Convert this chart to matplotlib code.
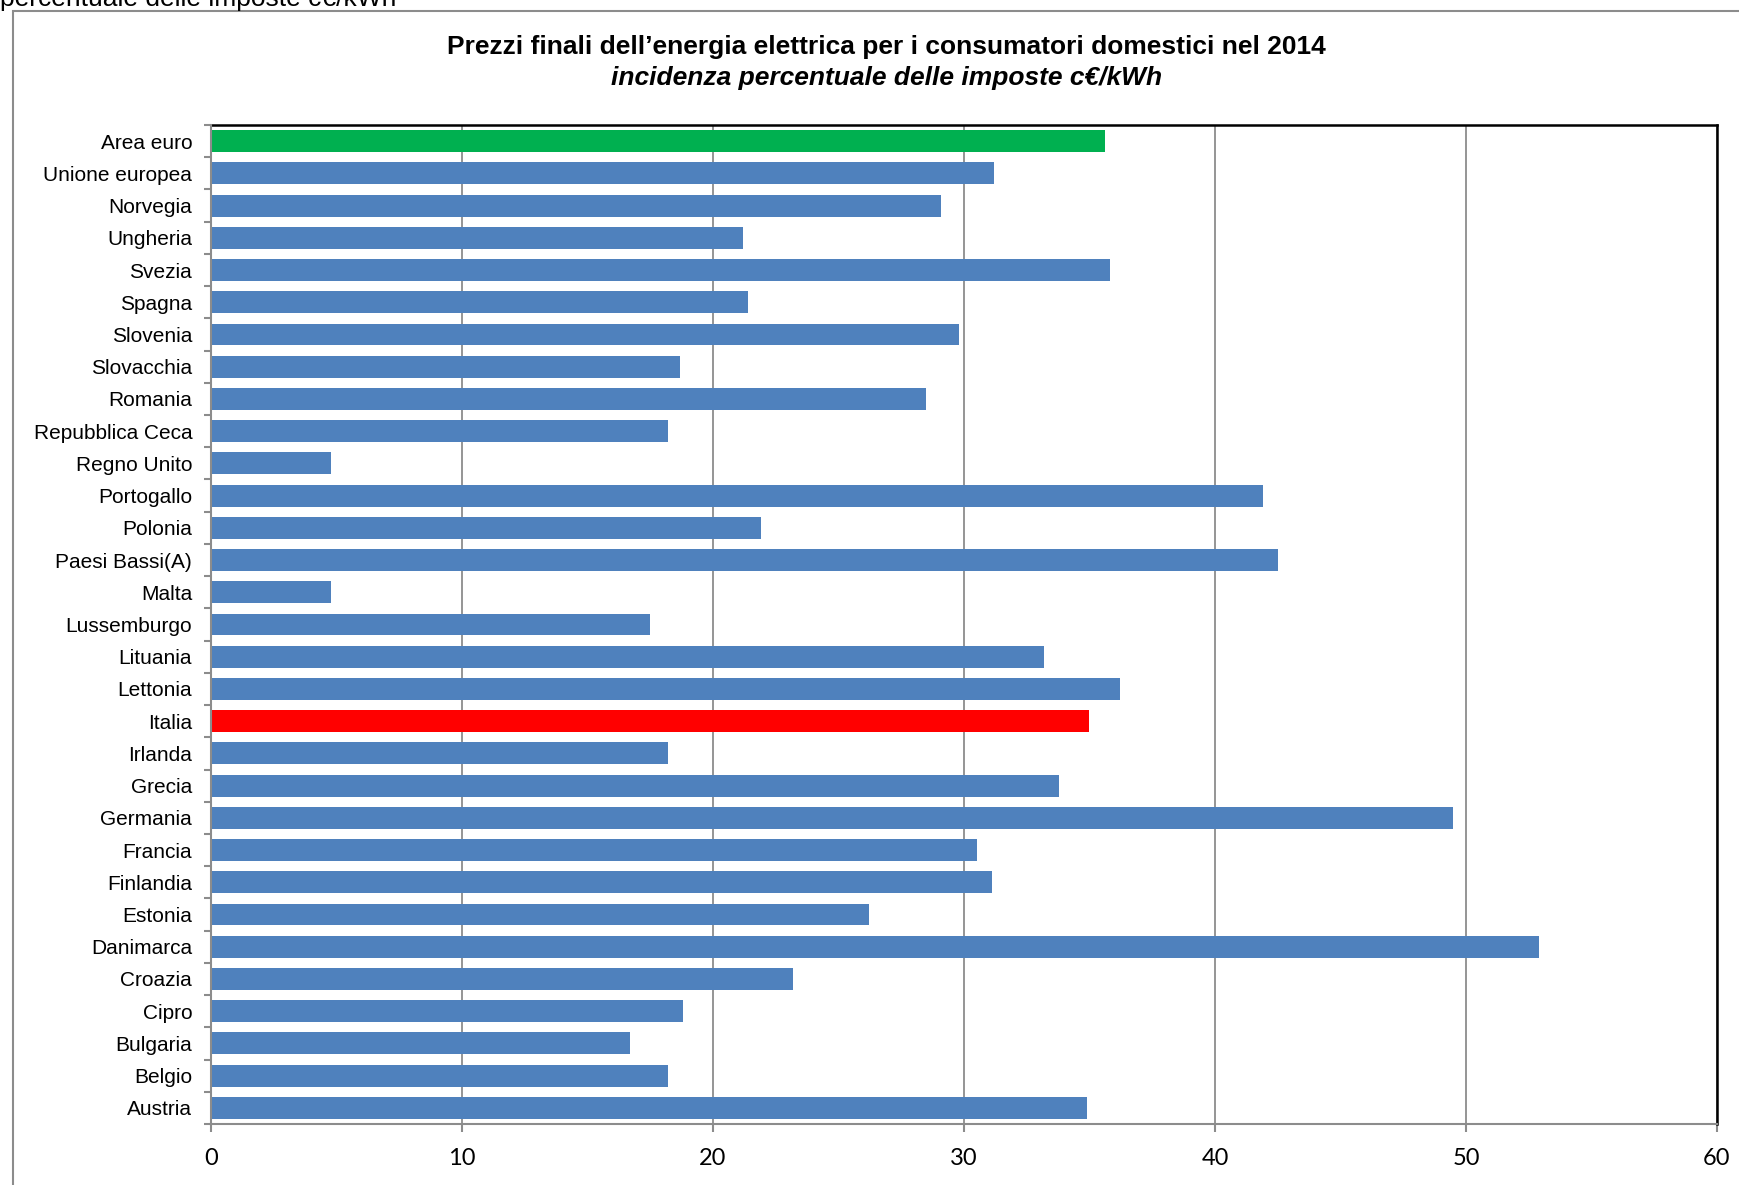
import numpy as np
import matplotlib
matplotlib.use("Agg")
import matplotlib.pyplot as plt
from matplotlib.patches import Rectangle

# countries from top to bottom, as in the chart
COUNTRIES = [
    "Area euro", "Unione europea", "Norvegia", "Ungheria", "Svezia", "Spagna",
    "Slovenia", "Slovacchia", "Romania", "Repubblica Ceca", "Regno Unito",
    "Portogallo", "Polonia", "Paesi Bassi(A)", "Malta", "Lussemburgo",
    "Lituania", "Lettonia", "Italia", "Irlanda", "Grecia", "Germania",
    "Francia", "Finlandia", "Estonia", "Danimarca", "Croazia", "Cipro",
    "Bulgaria", "Belgio", "Austria",
]
TAX_SHARE = [
    35.6, 31.2, 29.1, 21.2, 35.8, 21.4,
    29.8, 18.7, 28.5, 18.2, 4.8,
    41.9, 21.9, 42.5, 4.8, 17.5,
    33.2, 36.2, 35.0, 18.2, 33.8, 49.5,
    30.5, 31.1, 26.2, 52.9, 23.2, 18.8,
    16.7, 18.2, 34.9,
]
HIGHLIGHT = {"Area euro": "#00B050", "Italia": "#FF0000"}
BLUE = "#4F81BD"
X_TICKS = [0, 10, 20, 30, 40, 50, 60]

fig = plt.figure(figsize=(17.4, 11.85), dpi=100, facecolor="white")

# outer chart frame (partially cut off at right / bottom)
fig.patches.append(Rectangle((13 / 1740, -0.05), 1.2, 1 - 11 / 1185 + 0.05,
                             transform=fig.transFigure, fill=False,
                             edgecolor="#8c8c8c", linewidth=1.5))
# cropped line of text above the chart
fig.text(0.0, 1 - 6 / 1185, "percentuale delle imposte c€/kWh",
         fontsize=19, family="Liberation Sans", va="baseline", ha="left")

fig.text(0.5096, 1 - 47 / 1185,
         "Prezzi finali dell\u2019energia elettrica per i consumatori domestici nel 2014",
         fontsize=19, fontweight="bold", family="Liberation Sans",
         ha="center", va="center")
fig.text(0.5096, 1 - 78 / 1185, "incidenza percentuale delle imposte c€/kWh",
         fontsize=19, fontweight="bold", style="italic", family="Liberation Sans",
         ha="center", va="center")

ax = fig.add_axes([211 / 1740, 1 - 1124 / 1185, (1717 - 211) / 1740, (1124 - 125) / 1185])

n = len(COUNTRIES)
y = np.arange(n)[::-1]
colors = [HIGHLIGHT.get(c, BLUE) for c in COUNTRIES]
ax.barh(y, TAX_SHARE, height=0.68, color=colors, zorder=3)

ax.set_xlim(0, 60)
ax.set_ylim(-0.5, n - 0.5)
ax.set_xticks(X_TICKS)
ax.set_xticklabels([str(t) for t in X_TICKS], fontsize=17, family="Lato")
ax.set_yticks(y)
ax.set_yticklabels(COUNTRIES, fontsize=15, family="Liberation Sans")
ax.tick_params(axis="y", which="major", length=0, pad=13.5)
ax.set_yticks(np.arange(-0.5, n, 1.0), minor=True)
ax.tick_params(axis="y", which="minor", length=5, color="#8c8c8c", width=1.5)
ax.tick_params(axis="x", length=6, color="#8c8c8c", width=1.5, pad=11)

ax.grid(axis="x", color="#8c8c8c", linewidth=1.3, zorder=0)
for side in ("left", "bottom"):
    ax.spines[side].set_color("#8c8c8c")
    ax.spines[side].set_linewidth(1.5)
for side in ("top", "right"):
    ax.spines[side].set_color("black")
    ax.spines[side].set_linewidth(1.8)
ax.spines["left"].set_zorder(4)

plt.savefig("out.png", dpi=100, facecolor=fig.get_facecolor())
